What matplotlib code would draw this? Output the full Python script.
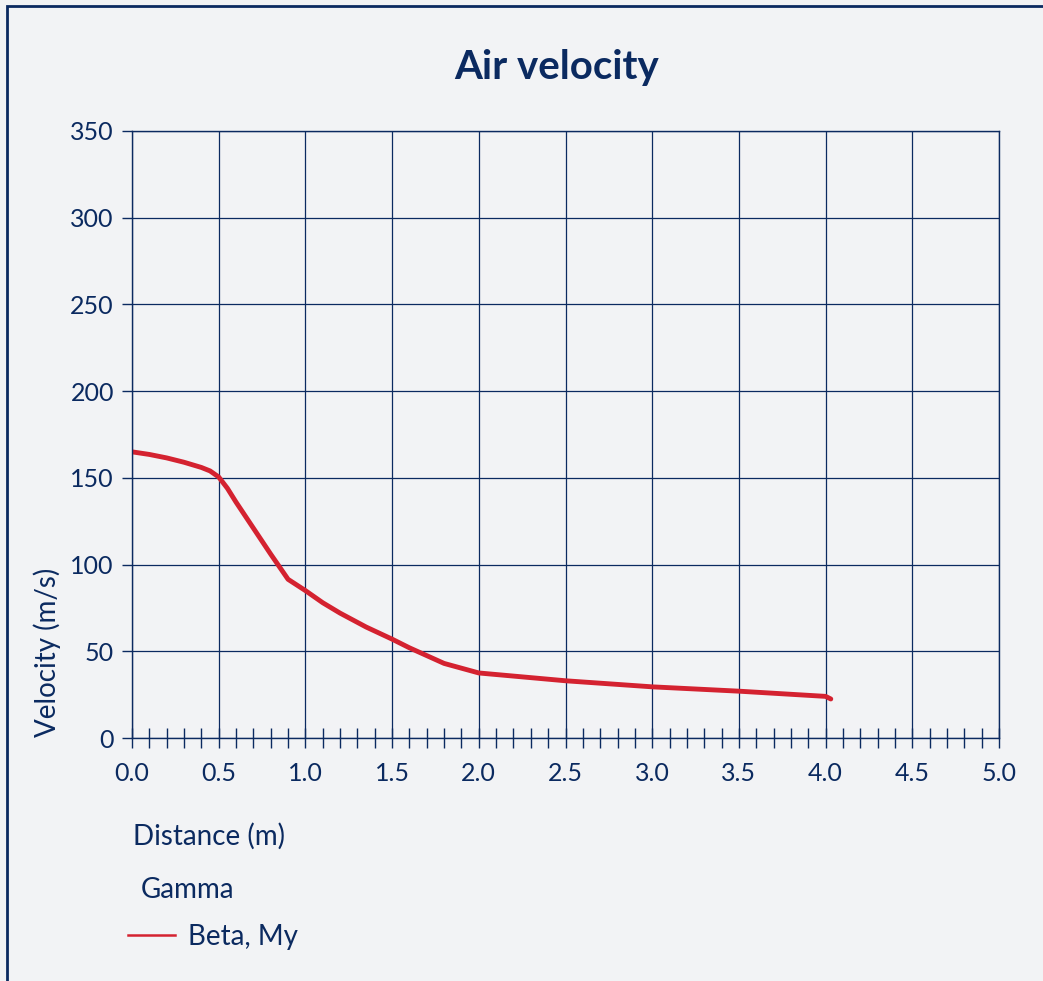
import numpy as np
import matplotlib.pyplot as plt
from matplotlib.lines import Line2D
from matplotlib.patches import Rectangle

# dane
distance = [0.0, 0.1, 0.2, 0.3, 0.4, 0.45, 0.5, 0.55, 0.6, 0.7, 0.8, 0.9, 1.0, 1.1, 1.2, 1.35, 1.5, 1.6, 1.8, 2.0, 2.5, 3.0, 3.5, 4.0, 4.03]
velocity = [165, 163.5, 161.5, 159, 156, 154, 150.5, 144, 136, 121, 106, 91.5, 85, 78, 72, 64, 57, 52, 43, 37.5, 33, 29.5, 27, 24, 22.5]
series_name = 'Beta, My'
legend_title = 'Gamma'
x_ticks = np.arange(0, 5.01, 0.5)
y_ticks = np.arange(0, 351, 50)

navy = '#0b2a60'
bg = '#f2f3f5'
red = '#d42230'
plt.rcParams['font.family'] = ['Lato', 'DejaVu Sans']

fig = plt.figure(figsize=(10.43, 9.81), dpi=100, facecolor=bg)
# ramka
fig.patches.append(Rectangle((7/1043, -0.1), 1.2, 1 - 6/981 + 0.1, transform=fig.transFigure,
                             fill=False, edgecolor=navy, linewidth=2))

ax = fig.add_axes([132/1043, 1 - 738/981, (999 - 132)/1043, (738 - 131)/981])
ax.set_facecolor(bg)
ax.plot(distance, velocity, color=red, linewidth=3.5, solid_capstyle='round', label=series_name)

ax.set_xlim(0, 5)
ax.set_ylim(0, 350)
ax.set_xticks(x_ticks)
ax.set_xticklabels([f'{t:.1f}' for t in x_ticks])
ax.set_xticks(np.arange(0, 5.01, 0.1), minor=True)
ax.set_yticks(y_ticks)
ax.grid(True, which='major', color=navy, linewidth=0.9)
ax.tick_params(axis='x', which='both', direction='inout', length=14, width=1, color=navy,
               labelsize=18, labelcolor=navy, pad=10)
ax.tick_params(axis='y', direction='out', length=7, width=1, color=navy,
               labelsize=18, labelcolor=navy, pad=6)
for s in ax.spines.values():
    s.set_color(navy)
    s.set_linewidth(1)

fig.text(557/1043, 1 - 68/981, 'Air velocity', ha='center', va='center',
         fontsize=29, fontweight='bold', color=navy)
fig.text(133/1043, 1 - 836/981, 'Distance (m)', ha='left', va='center', fontsize=20, color=navy)
fig.text(47/1043, 1 - 652/981, 'Velocity (m/s)', ha='center', va='center', rotation=90,
         fontsize=20, color=navy)

# legenda
fig.text(141/1043, 1 - 890/981, legend_title, ha='left', va='center', fontsize=20, color=navy)
handle = Line2D([], [], color=red, linewidth=1.8)
fig.legend([handle], [series_name], loc='center left', bbox_to_anchor=(128/1043, 1 - 937/981),
           frameon=False, fontsize=20, borderpad=0, borderaxespad=0,
           handlelength=1.7, handletextpad=0.47, labelcolor=navy)

fig.savefig('out.png', dpi=100, facecolor=bg)
